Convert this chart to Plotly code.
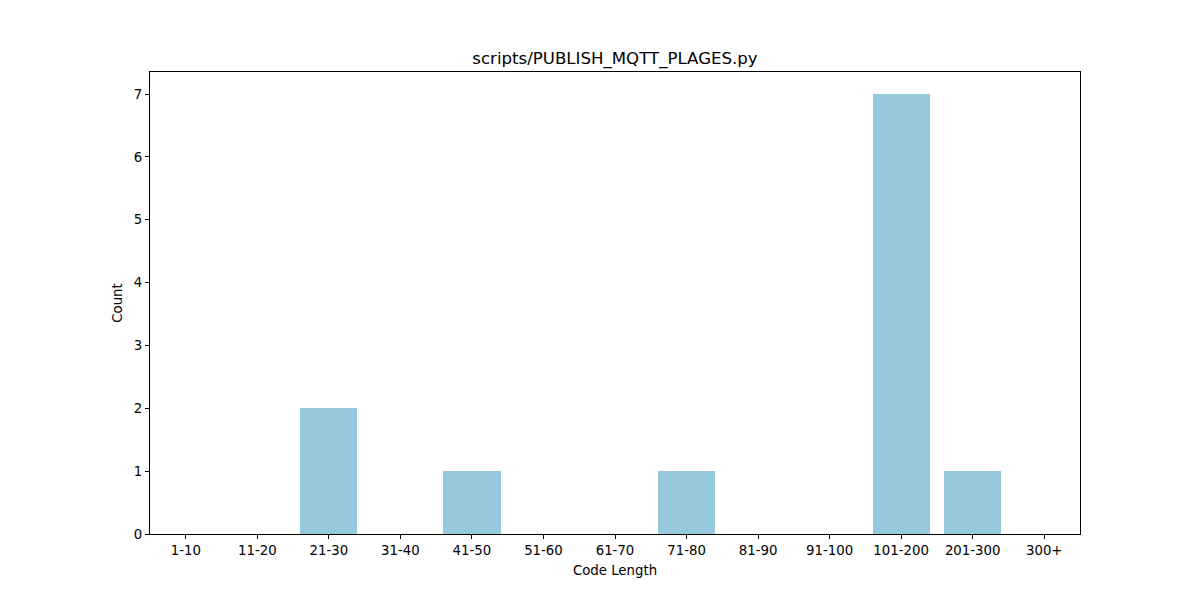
import plotly.graph_objects as go

categories = ["1-10", "11-20", "21-30", "31-40", "41-50", "51-60", "61-70",
              "71-80", "81-90", "91-100", "101-200", "201-300", "300+"]
counts = [0, 0, 2, 0, 1, 0, 0, 1, 0, 0, 7, 1, 0]
title = "scripts/PUBLISH_MQTT_PLAGES.py"

fig = go.Figure(go.Bar(x=list(range(len(categories))), y=counts, width=0.8,
                       marker=dict(color="#96c9dc", line=dict(width=0))))

# page body has an 8px offset; compensate in margins
fig.update_layout(
    width=1200, height=600,
    margin=dict(l=142, r=128, t=64, b=74),
    paper_bgcolor="white", plot_bgcolor="white",
    font=dict(family="DejaVu Sans", size=13.3, color="black"),
    title=dict(text=title, x=(615 - 8) / 1200, xanchor="center",
               y=1 - (58 - 8) / 600, yanchor="middle",
               font=dict(size=16.6)),
    showlegend=False,
    bargap=0,
)
fig.update_xaxes(
    range=[-0.5, len(categories) - 0.5],
    tickmode="array", tickvals=list(range(len(categories))), ticktext=categories,
    tickfont=dict(size=13.3),
    ticks="outside", ticklen=4, tickwidth=1, tickcolor="black",
    showline=True, linecolor="black", linewidth=1, mirror=True,
    showgrid=False, zeroline=False,
    title=dict(text="Code Length", standoff=8, font=dict(size=13.3)),
)
fig.update_yaxes(
    range=[0, 7.35],
    tickmode="array", tickvals=[0, 1, 2, 3, 4, 5, 6, 7],
    tickfont=dict(size=13.3),
    ticks="outside", ticklen=4, tickwidth=1, tickcolor="black",
    showline=True, linecolor="black", linewidth=1, mirror=True,
    showgrid=False, zeroline=False,
    title=dict(text="Count", standoff=8, font=dict(size=13.3)),
)

fig.write_html("out.html")
